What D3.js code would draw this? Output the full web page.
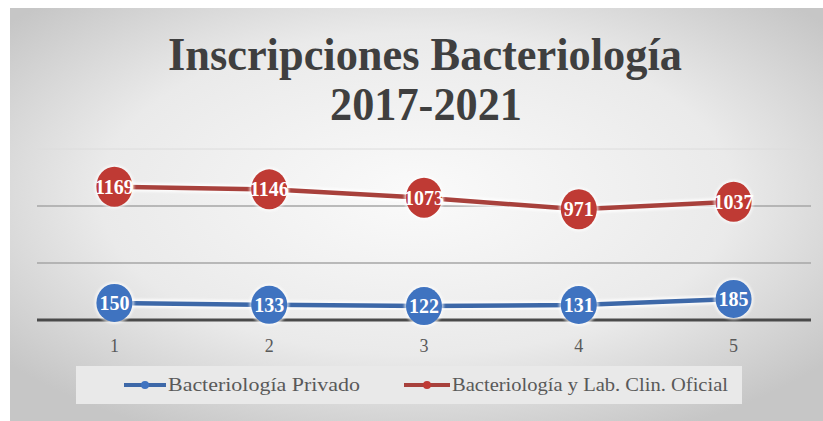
<!DOCTYPE html>
<meta charset="utf-8">
<style>
    body { margin: 0; background: #fff; }
    .title { font: bold 47px "Liberation Serif", serif; fill: #3f3f3f; text-anchor: middle; }
    .tick-label { font: 18px "Liberation Serif", serif; fill: #595959; text-anchor: middle; }
    .legend-label { font: 19px "Liberation Serif", serif; fill: #595959; }
    .dlabel { font: bold 20px "Liberation Serif", serif; fill: #fff; text-anchor: middle; }
</style>
<svg width="823" height="421"></svg>
<script src="https://d3js.org/d3.v7.min.js"></script>
<script>

    var categories = ["1", "2", "3", "4", "5"];
    var privado = [150, 133, 122, 131, 185];
    var oficial = [1169, 1146, 1073, 971, 1037];
    var seriesNames = ["Bacteriología Privado", "Bacteriología y Lab. Clin. Oficial"];
    var gridValues = [500, 1000, 1500];

    var svg = d3.select("svg");

    // background with soft radial gradient
    var defs = svg.append("defs");
    var grad = defs.append("radialGradient").attr("id", "bg")
        .attr("cx", "50%").attr("cy", "45%").attr("r", "65%");
    grad.append("stop").attr("offset", "0%").attr("stop-color", "#fafafa");
    grad.append("stop").attr("offset", "60%").attr("stop-color", "#eaeaea");
    grad.append("stop").attr("offset", "100%").attr("stop-color", "#c6c6c6");

    var glow = defs.append("filter").attr("id", "glow")
        .attr("x", "-20%").attr("y", "-50%").attr("width", "140%").attr("height", "200%");
    glow.append("feGaussianBlur").attr("stdDeviation", 1.2);

    svg.append("rect")
        .attr("x", 10).attr("y", 8)
        .attr("width", 813).attr("height", 413)
        .attr("fill", "url(#bg)");

    svg.append("text").attr("class", "title").attr("x", 425).attr("y", 70)
        .attr("textLength", 514).attr("lengthAdjust", "spacingAndGlyphs")
        .text("Inscripciones Bacteriología");
    svg.append("text").attr("class", "title").attr("x", 426).attr("y", 120)
        .attr("textLength", 192).attr("lengthAdjust", "spacingAndGlyphs")
        .text("2017-2021");

    var x = d3.scaleBand().domain(categories).range([37, 811]);
    var y = d3.scaleLinear().domain([0, 1500]).range([320, 149]);

    // gridlines
    svg.append("g").selectAll("line").data(gridValues).join("line")
        .attr("x1", 37).attr("x2", 811)
        .attr("y1", function (d) { return y(d); })
        .attr("y2", function (d) { return y(d); })
        .attr("stroke", function (d) { return d === 1500 ? "#dcdcdc" : "#a6a6a6"; })
        .attr("stroke-width", function (d) { return d === 1500 ? 1 : 1.5; });

    // x axis line
    svg.append("line")
        .attr("x1", 37).attr("x2", 811)
        .attr("y1", y(0)).attr("y2", y(0))
        .attr("stroke", "#4a4a4a").attr("stroke-width", 3);

    svg.append("g").selectAll("text").data(categories).join("text")
        .attr("class", "tick-label")
        .attr("x", function (d) { return x(d) + x.bandwidth() / 2; })
        .attr("y", 352)
        .text(function (d) { return d; });

    var series = [
        { name: seriesNames[0], values: privado, line: "#3d68a8", marker: "#3f73c0", rx: 18, ry: 19 },
        { name: seriesNames[1], values: oficial, line: "#a8413c", marker: "#bf3a34", rx: 18, ry: 20 }
    ];

    var line = d3.line()
        .x(function (d, i) { return x(categories[i]) + x.bandwidth() / 2; })
        .y(function (d) { return y(d); });

    series.forEach(function (s) {
        var g = svg.append("g");
        g.append("path").datum(s.values)
            .attr("d", line).attr("fill", "none")
            .attr("stroke", "#ffffff").attr("stroke-opacity", 0.8)
            .attr("stroke-width", 9).attr("filter", "url(#glow)");
        g.append("path").datum(s.values)
            .attr("d", line).attr("fill", "none")
            .attr("stroke", s.line).attr("stroke-width", 4.5);
        g.selectAll("ellipse.halo").data(s.values).join("ellipse")
            .attr("class", "halo")
            .attr("cx", function (d, i) { return x(categories[i]) + x.bandwidth() / 2; })
            .attr("cy", function (d) { return y(d); })
            .attr("rx", s.rx + 2).attr("ry", s.ry + 2)
            .attr("fill", "#ffffff").attr("opacity", 0.6).attr("filter", "url(#glow)");
        g.selectAll("ellipse.dot").data(s.values).join("ellipse")
            .attr("class", "dot")
            .attr("cx", function (d, i) { return x(categories[i]) + x.bandwidth() / 2; })
            .attr("cy", function (d) { return y(d); })
            .attr("rx", s.rx).attr("ry", s.ry)
            .attr("fill", s.marker);
        g.selectAll("text").data(s.values).join("text")
            .attr("class", "dlabel")
            .attr("x", function (d, i) { return x(categories[i]) + x.bandwidth() / 2; })
            .attr("y", function (d) { return y(d) + 7; })
            .text(function (d) { return d; });
    });

    // legend
    svg.append("rect")
        .attr("x", 76).attr("y", 366).attr("width", 666).attr("height", 38)
        .attr("fill", "#e9e9e9");

    var legendPos = [{ x1: 124, tx: 168, w: 192 }, { x1: 404, tx: 452, w: 276 }];
    series.forEach(function (s, i) {
        var lg = svg.append("g");
        var p = legendPos[i];
        lg.append("line")
            .attr("x1", p.x1).attr("x2", p.tx - 2)
            .attr("y1", 385).attr("y2", 385)
            .attr("stroke", s.line).attr("stroke-width", 4);
        lg.append("circle")
            .attr("cx", (p.x1 + p.tx - 2) / 2).attr("cy", 385).attr("r", 4)
            .attr("fill", s.marker);
        lg.append("text").attr("class", "legend-label")
            .attr("x", p.tx).attr("y", 391)
            .attr("textLength", p.w).attr("lengthAdjust", "spacingAndGlyphs")
            .text(s.name);
    });

</script>
